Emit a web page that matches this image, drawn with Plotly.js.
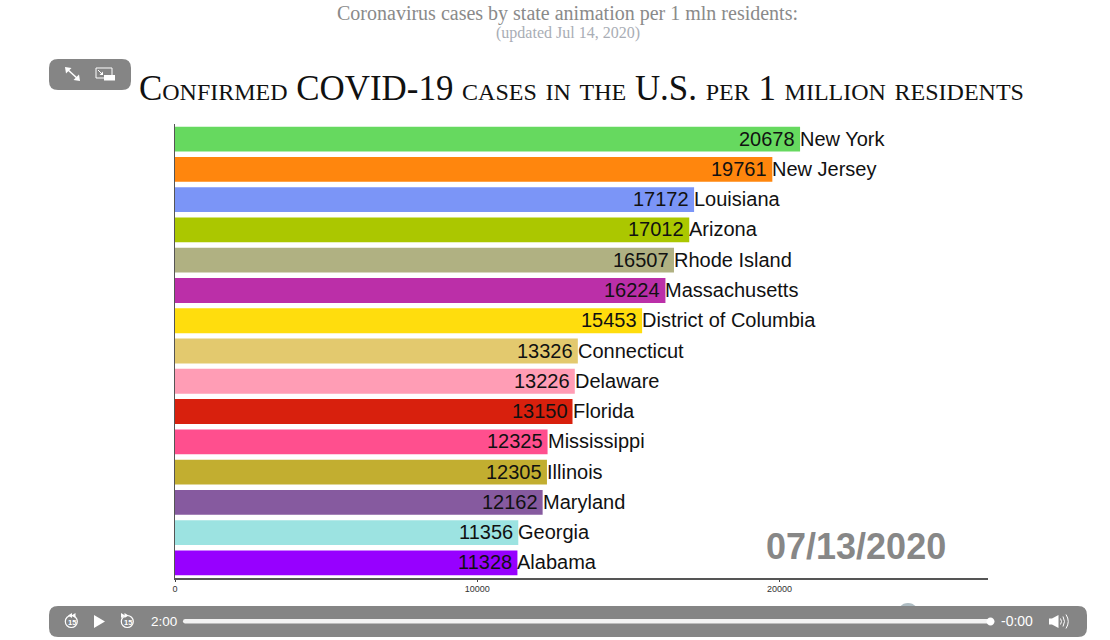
<!DOCTYPE html>
<html><head><meta charset="utf-8">
<script src="https://cdn.plot.ly/plotly-3.0.1.min.js"></script>
<style>html,body{margin:0;padding:0;background:#fff;overflow:hidden}#c{width:1110px;height:640px}</style>
</head><body><div id="c"></div>
<script>
const states=["New York","New Jersey","Louisiana","Arizona","Rhode Island","Massachusetts","District of Columbia","Connecticut","Delaware","Florida","Mississippi","Illinois","Maryland","Georgia","Alabama"];
const cases=[20678,19761,17172,17012,16507,16224,15453,13326,13226,13150,12325,12305,12162,11356,11328];
const colors=["#66D95F","#FF860D","#7B95F7","#ABC700","#B0B182","#BB2FA8","#FFDD0D","#E3C96E","#FF9DB5","#D8200D","#FF4F8E","#C2AE30","#865A9F","#9CE3E1","#9700FF"];
const tickVals=[0,10000,20000];
const tickLabels=["0","10000","20000"];
const dateLabel="07/13/2020";
const L=175,R=988,T=124,B=578;
const px=x=>((x-L)/(R-L));
const py=y=>((B-y)/(B-T));
const P=d=>d.replace(/(-?[\d.]+),(-?[\d.]+)/g,(m,a,b)=>px(+a).toFixed(5)+","+py(+b).toFixed(5));
const sh=(d,fill,line,w)=>({type:"path",xref:"paper",yref:"paper",path:P(d),fillcolor:fill||"rgba(0,0,0,0)",line:{color:line||"rgba(0,0,0,0)",width:w||0},layer:"above"});
const rr=(x0,y0,x1,y1,r)=>`M${x0+r},${y0} L${x1-r},${y0} Q${x1},${y0} ${x1},${y0+r} L${x1},${y1-r} Q${x1},${y1} ${x1-r},${y1} L${x0+r},${y1} Q${x0},${y1} ${x0},${y1-r} L${x0},${y0+r} Q${x0},${y0} ${x0+r},${y0} Z`;
const k=0.5523;
const circ=(cx,cy,r)=>`M${cx-r},${cy} C${cx-r},${cy-k*r} ${cx-k*r},${cy-r} ${cx},${cy-r} C${cx+k*r},${cy-r} ${cx+r},${cy-k*r} ${cx+r},${cy} C${cx+r},${cy+k*r} ${cx+k*r},${cy+r} ${cx},${cy+r} C${cx-k*r},${cy+r} ${cx-r},${cy+k*r} ${cx-r},${cy} Z`;
const note=(x,y,text,size,color,family,extra)=>Object.assign({xref:"paper",yref:"paper",x:px(x),y:py(y),text,showarrow:false,xanchor:"center",yanchor:"middle",font:{size,color,family}},extra||{});
const serif="'Liberation Serif',serif", sans="'Liberation Sans',Arial,sans-serif";
const W="#fff";
const shapes=[
 sh(circ(908,614,11),"#aebcc2"),
 sh(rr(49,606,1087,637,9),"#858585"),
 sh(rr(49,59,131,90,9),"#858585"),
 // expand icon
 sh("M67,69 L78,79",null,W,1.6),sh("M65,67 L71.5,68 L66,73.5 Z",W),sh("M80,81 L73.5,80 L79,74.5 Z",W),
 // pip icon
 sh("M96,68 L112,68 L112,78 L96,78 Z",null,W,1),sh("M104,75 L115,75 L115,80.5 L104,80.5 Z",W),
 sh("M98,70 L102,74",null,W,1),sh("M103,75 L103,71.5 L99.5,75 Z",W),
 // transport icons
 sh(circ(71.3,621.5,6),null,W,1.2),sh(circ(127.3,621.5,6),null,W,1.2),
 sh("M72,613 L68,615.5 L72,618 Z",W),sh("M75.5,613 L71.5,615.5 L75.5,618 Z",W),
 sh("M124.5,613 L128.5,615.5 L124.5,618 Z",W),sh("M121,613 L125,615.5 L121,618 Z",W),
 sh("M94,615 L105,621.5 L94,628 Z",W),
 // progress
 sh(rr(183,619,990,623.5,2.2),"#f2f2f2"),sh(circ(990.5,621.5,4),W),
 // volume
 sh("M1049,618.5 L1052,618.5 L1058.5,615 L1058.5,628 L1052,624.5 L1049,624.5 Z",W),
 sh("M1060.5,618.5 Q1062.5,621.5 1060.5,624.5",null,W,1),sh("M1063,616.5 Q1066,621.5 1063,626.5",null,W,1),sh("M1066,614.5 Q1070.5,621.5 1066,628.5",null,W,1)
];
const valueNotes=states.map((s,i)=>({xref:"x",yref:"y",x:cases[i],y:s,text:String(cases[i]),showarrow:false,xanchor:"right",yanchor:"middle",xshift:-3,yshift:0.5,font:{family:sans,size:20,color:"#111"}}));
const nameNotes=states.map((s,i)=>({xref:"x",yref:"y",x:cases[i],y:s,text:s,showarrow:false,xanchor:"left",yanchor:"middle",xshift:-2,yshift:0.5,font:{family:sans,size:20,color:"#111"}}));
const annotations=[
 note(567.5,14,"Coronavirus cases by state animation per 1 mln residents:",20,"#8a8a8a",serif),
 note(567.5,33,"(updated Jul 14, 2020)",16,"#a9adb5",serif),
 note(581,89,"Confirmed COVID-19 cases in the U.S. per 1 million residents",34.9,"#111",serif),
 note(856,546,"<b>"+dateLabel+"</b>",36,"#878787",sans),
 note(71.5,622.5,"<b>15</b>",7.5,W,sans),note(127.5,622.5,"<b>15</b>",7.5,W,sans),
 note(163.5,621,"2:00",13.5,W,sans),
 note(1017,621,"-0:00",14,W,sans),
 ...valueNotes,...nameNotes
];
annotations[2].font.variant="small-caps";
const traces=[
 {type:"bar",orientation:"h",y:states,x:cases,marker:{color:colors,line:{width:0}},hoverinfo:"skip"}
];
const layout={
 width:1110,height:640,margin:{l:L,r:1110-R,t:T,b:640-B},
 paper_bgcolor:"#fff",plot_bgcolor:"#fff",showlegend:false,bargap:0.18,
 xaxis:{range:[0,26895],tickvals:tickVals,ticktext:tickLabels,ticks:"outside",ticklen:2,tickcolor:"#444",tickwidth:1,showgrid:false,zeroline:false,showline:true,linecolor:"#555",linewidth:1.5,tickfont:{family:sans,size:9,color:"#333"}},
 yaxis:{type:"category",categoryorder:"array",categoryarray:states,range:[14.5,-0.5],showticklabels:false,ticks:"",showgrid:false,zeroline:false,showline:true,linecolor:"#555",linewidth:1},
 shapes,annotations
};
Plotly.newPlot("c",traces,layout,{displayModeBar:false,staticPlot:true});
</script></body></html>
